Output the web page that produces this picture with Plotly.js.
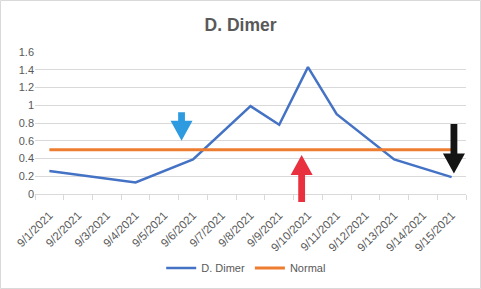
<!DOCTYPE html>
<html><head><meta charset="utf-8">
<script src="https://cdn.plot.ly/plotly-3.0.1.min.js"></script>
<style>html,body{margin:0;padding:0;background:#fff}#chart{width:481px;height:289px}</style>
</head><body><div id="chart"></div>
<script>
const dates = ['9/1/2021','9/2/2021','9/3/2021','9/4/2021','9/5/2021','9/6/2021','9/7/2021','9/8/2021','9/9/2021','9/10/2021','9/11/2021','9/12/2021','9/13/2021','9/14/2021','9/15/2021'];
const dDimer = [0.26, null, null, 0.13, null, 0.39, null, 0.99, 0.78, 1.43, 0.90, null, 0.39, null, 0.19];
const normal = [0.5,0.5,0.5,0.5,0.5,0.5,0.5,0.5,0.5,0.5,0.5,0.5,0.5,0.5,0.5];
const yTicks = [0, 0.2, 0.4, 0.6, 0.8, 1, 1.2, 1.4, 1.6];
const yTickText = ['0','0.2','0.4','0.6','0.8','1','1.2','1.4','1.6'];
// arrow annotations: position (category index), tail value, tip value
const arrowX = [4.6, 8.78, 14.08];
const arrowTail = [0.92, -0.09, 0.79];
const arrowTip = [0.60, 0.44, 0.23];
const arrowColor = ['#2e9be0', '#e8303f', '#141414'];

const idx = dates.map((d,i)=>i);
const W = 481, H = 289, mL = 35, mR = 15, mT = 52, mB = 95;
const pw = W - mL - mR, ph = H - mT - mB;
const xr = [-0.5, dates.length - 0.5], yr = [0, 1.6];
const px = v => (v - xr[0]) / (xr[1] - xr[0]);
const py = v => (v - yr[0]) / (yr[1] - yr[0]);

const shapes = [];
arrowX.forEach((ax, i) => {
  const x = px(ax), tail = py(arrowTail[i]), tip = py(arrowTip[i]);
  const dir = tip > tail ? 1 : -1;
  const hw = 11 / pw, sw = 3.4 / pw, hl = 20 / ph;
  const base = tip - dir * hl;
  const p = [[x - sw, tail],[x + sw, tail],[x + sw, base],[x + hw, base],[x, tip],[x - hw, base],[x - sw, base]];
  shapes.push({type:'path', xref:'paper', yref:'paper', path:'M' + p.map(q=>q[0].toFixed(5)+','+q[1].toFixed(5)).join(' L') + ' Z', fillcolor: arrowColor[i], line:{width:0}, layer:'above'});
});
shapes.push({type:'rect', xref:'paper', yref:'paper', x0:-mL/pw + 0.5/pw, x1:1 + (mR-0.5)/pw, y0:-mB/ph + 0.5/ph, y1:1 + (mT-0.5)/ph, line:{color:'#d9d9d9', width:1}, fillcolor:'rgba(0,0,0,0)'});

const traces = [
  {x: idx, y: dDimer, name:'D. Dimer', type:'scatter', mode:'lines', connectgaps:true, line:{color:'#4472c4', width:2.5}},
  {x: idx, y: normal, name:'Normal', type:'scatter', mode:'lines', line:{color:'#ed7d31', width:3}}
];
const fam = '"Liberation Sans", Arial, sans-serif';
const font = {family:fam, color:'#595959', size:11};
const layout = {
  width: W, height: H, margin:{l:mL, r:mR, t:mT, b:mB, pad:0, autoexpand:false},
  paper_bgcolor:'#fff', plot_bgcolor:'#fff', font: font,
  title:{text:'<b>D. Dimer</b>', x:0.5, xref:'container', xanchor:'center', y:1-25/H, yref:'container', yanchor:'middle', font:{family:fam, size:17.5, color:'#595959'}},
  xaxis:{type:'linear', range:xr, tickvals:idx, ticktext:dates, tickangle:-45, ticks:'', ticklabelstandoff:9, showgrid:false, zeroline:false, showline:true, linecolor:'#d9d9d9', linewidth:1, tickfont:{family:fam, color:'#595959', size:11.5}, fixedrange:true, automargin:false,
    minor:{tick0:-0.5, dtick:1, ticks:'outside', ticklen:5, tickcolor:'#d9d9d9', showgrid:false}},
  yaxis:{range:yr, tickvals:yTicks, ticktext:yTickText, showgrid:true, gridcolor:'#d9d9d9', gridwidth:1, zeroline:false, showline:false, ticks:'', tickfont:font, fixedrange:true, automargin:false},
  showlegend:true,
  legend:{orientation:'h', x:0.49, xanchor:'center', y:(194-268)/ph, yanchor:'middle', font:font, bgcolor:'rgba(0,0,0,0)', itemwidth:30},
  shapes: shapes
};
Plotly.newPlot('chart', traces, layout, {displayModeBar:false, staticPlot:true});
</script></body></html>
